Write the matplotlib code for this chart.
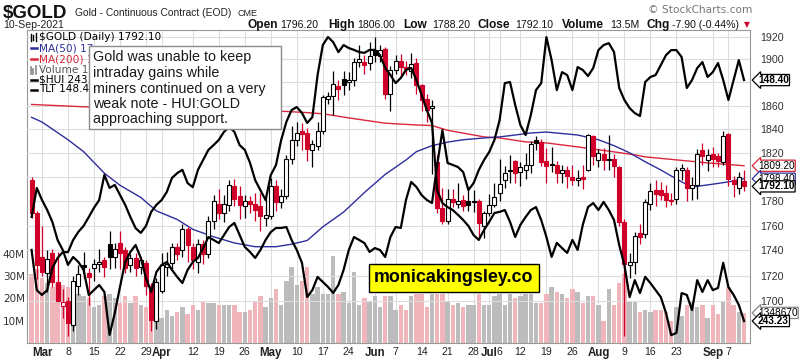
import numpy as np
import pandas as pd
import matplotlib
matplotlib.use("Agg")
import matplotlib.pyplot as plt
from matplotlib.patches import Rectangle
from matplotlib.lines import Line2D
from matplotlib.ticker import FixedLocator, NullLocator
from matplotlib.transforms import blended_transform_factory

# trading days on the chart (CME closed on these)
holidays = ["2021-04-02", "2021-05-31", "2021-07-05", "2021-09-06"]
dates = pd.bdate_range("2021-02-25", "2021-09-10")
dates = dates[~dates.isin(pd.to_datetime(holidays))]

prior_close = 1797.9

opens = [1797, 1770, 1735, 1722, 1738, 1715, 1696, 1700, 1681, 1712, 1728, 1722, 1726, 1729, 1732,
         1745, 1735, 1746, 1740, 1728, 1734, 1727, 1730, 1712, 1684, 1708, 1727, 1730, 1743, 1740,
         1757, 1743, 1731, 1745, 1737, 1764, 1778, 1770, 1777, 1792, 1784, 1776, 1780, 1778, 1776,
         1766, 1768, 1792, 1779, 1784, 1815, 1831, 1838, 1837, 1822, 1826, 1838, 1866, 1868, 1877,
         1883, 1880, 1882, 1898, 1898, 1897, 1908, 1903, 1909, 1870, 1891, 1899, 1893, 1890, 1897,
         1878, 1866, 1858, 1812, 1774, 1764, 1782, 1778, 1781, 1780, 1779, 1780, 1760, 1770, 1777,
         1787, 1797, 1806, 1813, 1804, 1806, 1810, 1831, 1829, 1813, 1811, 1810, 1803, 1806, 1800,
         1797, 1800, 1806, 1834, 1814, 1819, 1814, 1815, 1808, 1763, 1728, 1731, 1754, 1753, 1778,
         1789, 1789, 1787, 1781, 1782, 1806, 1806, 1791, 1793, 1822, 1814, 1819, 1817, 1812, 1836,
         1797, 1791, 1796.2]
highs = [1800, 1772, 1760, 1740, 1741, 1739, 1709, 1703, 1720, 1728, 1739, 1726, 1733, 1741, 1735,
         1756, 1746, 1756, 1743, 1737, 1738, 1735, 1732, 1714, 1718, 1738, 1739, 1746, 1746, 1761,
         1759, 1746, 1749, 1748, 1768, 1785, 1790, 1785, 1797, 1798, 1792, 1785, 1784, 1787, 1787,
         1783, 1799, 1797, 1790, 1818, 1843, 1846, 1845, 1841, 1831, 1846, 1869, 1872, 1890, 1882,
         1890, 1889, 1901, 1913, 1904, 1915, 1920, 1913, 1911, 1894, 1904, 1905, 1899, 1906, 1901,
         1879, 1870, 1865, 1818, 1791, 1790, 1790, 1795, 1785, 1790, 1789, 1782, 1772, 1786, 1795,
         1815, 1809, 1818, 1814, 1812, 1820, 1830, 1834, 1832, 1824, 1825, 1813, 1810, 1809, 1810,
         1806, 1810, 1836, 1835, 1823, 1824, 1835, 1819, 1809, 1765, 1738, 1755, 1761, 1782, 1795,
         1797, 1796, 1793, 1787, 1808, 1811, 1808, 1800, 1823, 1828, 1823, 1825, 1820, 1838, 1837,
         1801, 1804, 1806]
lows = [1766, 1717, 1720, 1707, 1711, 1700, 1687, 1673, 1677, 1705, 1718, 1697, 1716, 1723, 1719,
        1725, 1726, 1725, 1722, 1723, 1720, 1721, 1705, 1677, 1678, 1706, 1720, 1725, 1732, 1735,
        1731, 1725, 1722, 1729, 1734, 1757, 1765, 1763, 1772, 1776, 1765, 1766, 1770, 1764, 1756,
        1760, 1765, 1772, 1774, 1782, 1811, 1826, 1822, 1813, 1808, 1822, 1836, 1861, 1852, 1865,
        1869, 1873, 1877, 1893, 1887, 1891, 1898, 1898, 1866, 1855, 1887, 1885, 1886, 1884, 1870,
        1855, 1846, 1802, 1770, 1761, 1761, 1775, 1774, 1772, 1772, 1771, 1751, 1750, 1768, 1775,
        1780, 1791, 1795, 1795, 1792, 1798, 1803, 1822, 1809, 1795, 1804, 1795, 1795, 1791, 1793,
        1792, 1790, 1805, 1810, 1808, 1806, 1806, 1800, 1760, 1673, 1718, 1721, 1745, 1750, 1773,
        1776, 1781, 1775, 1777, 1778, 1797, 1780, 1781, 1782, 1810, 1805, 1808, 1808, 1810, 1792,
        1783, 1786, 1788.2]
closes = [1770, 1728, 1723, 1733, 1715, 1700, 1699, 1683, 1716, 1721, 1727, 1719, 1729, 1731, 1727,
          1735, 1741, 1738, 1726, 1734, 1726, 1732, 1712, 1685, 1715, 1728, 1729, 1743, 1737, 1757,
          1744, 1732, 1745, 1737, 1764, 1780, 1770, 1778, 1793, 1782, 1777, 1780, 1778, 1773, 1768,
          1769, 1792, 1779, 1784, 1815, 1831, 1837, 1836, 1823, 1827, 1838, 1867, 1868, 1879, 1874,
          1878, 1882, 1898, 1900, 1895, 1903, 1904, 1908, 1870, 1891, 1899, 1893, 1892, 1896, 1878,
          1865, 1856, 1860, 1774, 1764, 1782, 1779, 1780, 1776, 1777, 1780, 1762, 1770, 1777, 1783,
          1794, 1803, 1805, 1803, 1808, 1810, 1827, 1828, 1812, 1809, 1810, 1803, 1806, 1801, 1797,
          1799, 1798, 1835, 1817, 1820, 1814, 1815, 1809, 1763, 1729, 1731, 1752, 1751, 1779, 1788,
          1786, 1785, 1781, 1780, 1806, 1807, 1791, 1793, 1819, 1817, 1818, 1815, 1813, 1834, 1798,
          1794, 1800, 1792.1]
volume_m = [31, 33, 29, 27, 25, 27, 26, 25, 25, 22, 21, 20, 16, 17, 21, 22, 20, 18, 21, 18,
            21, 17, 16, 24, 17, 11, 15, 12, 14, 16, 13, 17, 15, 19, 18, 18, 17, 17, 17, 17,
            14, 14, 15, 19, 21, 16, 20, 24, 17, 28, 34, 26, 28, 34, 22, 25, 22, 22, 39, 22,
            23, 18, 32, 17, 20, 19, 21, 16, 21, 21, 15, 17, 15, 21, 22, 22, 16, 22, 22, 22,
            19, 17, 18, 16, 17, 17, 22, 17, 17, 21, 22, 17, 22, 20, 21, 22, 22, 18, 18, 22,
            25, 23, 22, 20, 24, 23, 18, 21, 21, 17, 10, 24, 17, 27, 31, 19, 19, 14, 15, 14,
            15, 15, 14, 10, 16, 12, 17, 19, 16, 17, 11, 17, 13, 19, 25, 17, 14, 13.4867]
hui = [262.5, 251.6, 250.3, 251.6, 257.6, 260.3, 261.9, 261.9, 265.2, 267.4, 269.0, 271.4, 273.9,
       276.0, 282.8, 279.3, 280.1, 277.4, 274.7, 271.4, 268.4, 267.1, 269.0, 272.8, 274.7, 276.0,
       278.2, 282.0, 283.3, 284.2, 280.6, 279.5, 284.2, 286.9, 289.6, 290.9, 292.3, 294.5, 295.8,
       294.5, 290.9, 289.6, 286.1, 281.4, 278.7, 276.0, 282.8, 285.5, 292.3, 297.2, 300.4, 301.2,
       299.6, 296.9, 298.5, 309.9, 318.0, 320.2, 318.8, 316.1, 318.0, 317.2, 316.7, 316.1, 315.9,
       316.7, 316.7, 315.3, 311.8, 309.9, 307.7, 309.1, 311.3, 311.8, 308.5, 304.5, 300.4, 296.9,
       278.7, 275.2, 274.1, 273.3, 272.0, 270.6, 269.0, 266.5, 265.2, 267.9, 270.1, 272.5, 272.8,
       273.3, 270.1, 266.0, 269.3, 271.4, 273.3, 274.1, 270.6, 266.0, 260.6, 264.4, 263.0, 261.7,
       265.2, 262.5, 269.3, 274.1, 275.2, 273.3, 275.5, 273.3, 270.6, 263.8, 258.4, 249.7, 254.3,
       250.8, 255.2, 253.5, 251.6, 249.7, 245.4, 239.4, 240.0, 250.8, 250.3, 246.2, 254.3, 251.1,
       254.3, 251.6, 252.2, 259.0, 252.4, 250.3, 247.6, 243.23]
tlt = [139.95, 141.74, 141.00, 140.38, 139.64, 138.53, 137.91, 136.99, 137.48, 137.17, 136.68,
       135.13, 135.44, 135.75, 135.32, 132.67, 134.02, 135.63, 137.17, 137.79, 138.22, 137.42,
       136.18, 135.32, 136.55, 136.99, 137.17, 136.68, 136.25, 135.87, 136.68, 137.17, 137.42,
       138.03, 138.71, 138.53, 138.34, 138.84, 139.33, 139.58, 138.84, 138.10, 137.79, 137.42,
       137.91, 138.53, 139.02, 139.27, 139.27, 139.33, 138.53, 137.91, 137.11, 135.01, 135.44,
       136.25, 135.94, 135.63, 135.26, 135.75, 136.68, 137.91, 138.71, 138.53, 138.34, 137.79,
       138.03, 137.91, 137.48, 138.71, 139.33, 139.27, 141.00, 142.11, 141.80, 141.30, 141.00,
       140.81, 143.16, 145.31, 143.28, 143.16, 143.03, 142.72, 141.61, 142.04, 142.85, 143.46,
       143.96, 144.70, 145.93, 148.21, 148.28, 146.86, 145.62, 145.01, 146.24, 147.78, 148.21,
       151.05, 149.63, 147.78, 148.89, 148.71, 147.78, 149.20, 149.02, 148.65, 149.14, 150.25,
       150.56, 150.68, 150.13, 147.91, 147.17, 146.67, 146.36, 146.18, 148.28, 148.59, 148.71,
       149.33, 149.94, 150.25, 150.25, 149.82, 147.91, 148.40, 149.14, 149.51, 148.59, 148.89,
       149.45, 148.40, 147.17, 148.40, 149.63, 148.40]

ma50_dates = ["2021-02-25", "2021-03-01", "2021-03-04", "2021-03-08", "2021-03-11", "2021-03-17",
              "2021-03-22", "2021-03-26", "2021-03-31", "2021-04-07", "2021-04-12", "2021-04-16",
              "2021-04-22", "2021-04-28", "2021-05-04", "2021-05-07", "2021-05-12", "2021-05-17",
              "2021-05-21", "2021-05-27", "2021-06-03", "2021-06-09", "2021-06-11", "2021-06-16",
              "2021-06-21", "2021-06-24", "2021-06-30", "2021-07-06", "2021-07-09", "2021-07-14",
              "2021-07-19", "2021-07-27", "2021-08-02", "2021-08-05", "2021-08-10", "2021-08-13",
              "2021-08-18", "2021-08-24", "2021-08-26", "2021-08-31", "2021-09-07", "2021-09-10"]
ma50_vals = [1850, 1846, 1837, 1831, 1821, 1803, 1793, 1783, 1772, 1765, 1757, 1751, 1746, 1743,
             1743, 1745, 1748, 1759, 1771, 1787, 1802, 1814, 1821, 1826, 1829, 1831, 1832.5, 1833.4,
             1835, 1836.7, 1837.5, 1835, 1831, 1826, 1820, 1812.5, 1805.7, 1795.8, 1791.6, 1793.3,
             1795.8, 1798.4]
ma200_dates = ["2021-02-25", "2021-03-11", "2021-05-06", "2021-05-12", "2021-05-17", "2021-05-24",
               "2021-06-03", "2021-06-11", "2021-06-16", "2021-06-21", "2021-06-30", "2021-07-06",
               "2021-07-13", "2021-07-19", "2021-07-27", "2021-08-05", "2021-08-11", "2021-08-13",
               "2021-08-23", "2021-08-31", "2021-09-10"]
ma200_vals = [1861, 1859, 1855, 1854, 1853, 1849.5, 1845, 1843.5, 1843, 1839, 1833.4, 1832.5,
              1829.2, 1828.3, 1825, 1820.8, 1818.3, 1816.6, 1814.1, 1811.6, 1809.2]

tick_dates = ["2021-03-01", "2021-03-08", "2021-03-15", "2021-03-22", "2021-03-29", "2021-04-01",
              "2021-04-12", "2021-04-19", "2021-04-26", "2021-05-03", "2021-05-10", "2021-05-17",
              "2021-05-24", "2021-06-01", "2021-06-07", "2021-06-14", "2021-06-21", "2021-06-28",
              "2021-07-01", "2021-07-06", "2021-07-12", "2021-07-19", "2021-07-26", "2021-08-02",
              "2021-08-09", "2021-08-16", "2021-08-23", "2021-09-01", "2021-09-07"]
tick_labels = ["Mar", "8", "15", "22", "29", "Apr", "12", "19", "26", "May", "10", "17", "24",
               "Jun", "7", "14", "21", "28", "Jul", "6", "12", "19", "26", "Aug", "9", "16", "23",
               "Sep", "7"]
months = {"Mar", "Apr", "May", "Jun", "Jul", "Aug", "Sep"}
grid_prices = [1700, 1720, 1740, 1760, 1780, 1800, 1820, 1840, 1860, 1880, 1900, 1920]
# 1880 and 1800 sit under the value tags on the reference
price_labels = [1700, 1720, 1740, 1760, 1780, 1820, 1840, 1860, 1900, 1920]

RED = "#d0002a"
PINK = "#f0b5ba"
GREY = "#bcbcbc"
GRID = "#dddddd"
BLUE = "#2e2e9c"
MARED = "#d8283c"

W, H = 803, 360
def fx(x): return x / W
def fy(y): return 1 - y / H

x = np.arange(len(dates))
prev = [prior_close] + closes[:-1]
down = [c < p for c, p in zip(closes, prev)]
tick_pos = dates.get_indexer(pd.to_datetime(tick_dates))

fig = plt.figure(figsize=(8.03, 3.6), dpi=100)
pos = [fx(27), fy(343), fx(750) - fx(27), fy(30) - fy(343)]
xlim = (-0.88, 138.15)

# volume (bottom layer)
ax_v = fig.add_axes(pos)
ax_v.set_xlim(*xlim)
ax_v.set_ylim(0, 140.3e6)
ax_v.bar(x, np.array(volume_m) * 1e6, width=0.85,
         color=[PINK if d else GREY for d in down], zorder=2)
ax_v.set_yticks([10e6, 20e6, 30e6, 40e6])
ax_v.set_yticklabels(["10M", "20M", "30M", "40M"])
ax_v.tick_params(axis="y", length=0, pad=1.5, labelsize=7.5, labelcolor="#333333")
ax_v.set_xticks(tick_pos)
ax_v.set_xticklabels(tick_labels)
ax_v.tick_params(axis="x", length=0, pad=3, labelsize=7.6, labelcolor="#222222")
for lab in ax_v.get_xticklabels():
    lab.set_fontfamily("Liberation Sans")
    if lab.get_text() in months:
        lab.set_fontweight("bold")
        lab.set_fontsize(8.3)
for xt in tick_pos:
    ax_v.axvline(xt, color=GRID, lw=0.8, zorder=1)
for s in ax_v.spines.values():
    s.set_color("#999999")
    s.set_linewidth(0.8)

# price layer
ax_p = fig.add_axes(pos, facecolor="none")
ax_p.set_yscale("log")
ax_p.set_xlim(*xlim)
ax_p.set_ylim(1667.4, 1925.9)
ax_p.yaxis.set_major_locator(FixedLocator(price_labels))
ax_p.yaxis.set_minor_locator(NullLocator())
ax_p.set_yticklabels([str(t) for t in price_labels])
ax_p.yaxis.tick_right()
ax_p.tick_params(axis="y", which="both", length=0, pad=7, labelsize=7.7, labelcolor="#333333")
for lab in ax_p.get_yticklabels():
    lab.set_fontfamily("Liberation Sans")
ax_p.set_xticks([])
for t in grid_prices:
    ax_p.axhline(t, color=GRID, lw=0.8, zorder=0)
for s in ax_p.spines.values():
    s.set_visible(False)

ma50_x = dates.get_indexer(pd.to_datetime(ma50_dates))
ma200_x = dates.get_indexer(pd.to_datetime(ma200_dates))
ax_p.plot(ma200_x, ma200_vals, color=MARED, lw=1.0, zorder=3)
ax_p.plot(ma50_x, ma50_vals, color=BLUE, lw=1.0, zorder=3)

for i in range(len(x)):
    o, h, l, c = opens[i], highs[i], lows[i], closes[i]
    col = RED if down[i] else "black"
    face = "white" if c >= o else col
    ax_p.vlines(x[i], l, h, color=col, lw=0.9, zorder=4)
    body = max(abs(c - o), 0.6)
    ax_p.bar(x[i], body, bottom=min(o, c), width=0.74, facecolor=face,
             edgecolor=col, lw=0.8, zorder=5)

# overlays
ax_t = fig.add_axes(pos, facecolor="none")
ax_t.set_xlim(*xlim)
ax_t.set_ylim(132.17, 151.49)
ax_t.plot(x, tlt, color="black", lw=1.6, zorder=6)
ax_t.axis("off")

ax_h = fig.add_axes(pos, facecolor="none")
ax_h.set_xlim(*xlim)
ax_h.set_ylim(237.27, 322.09)
ax_h.plot(x, hui, color="black", lw=1.6, zorder=6)
ax_h.axis("off")

# right-edge value tags
def tag(ax, val, txt, ec, bold=False):
    tr = blended_transform_factory(ax.transAxes, ax.transData)
    ax.text(1.0 + 8 / 723, val, txt, transform=tr, ha="left", va="center",
            fontsize=7.3, family="Liberation Sans", fontweight="bold" if bold else "normal",
            color="black", clip_on=False, zorder=20,
            bbox=dict(boxstyle="larrow,pad=0.06", fc="white", ec=ec, lw=0.9))

tag(ax_t, tlt[-1], "148.40", "black", True)
tag(ax_p, ma200_vals[-1], "1809.20", MARED)
tag(ax_p, ma50_vals[-1], "1798.40", BLUE)
tag(ax_p, closes[-1], "1792.10", "black", True)
tag(ax_v, volume_m[-1] * 1e6, "1348670", "#888888")
tag(ax_h, hui[-1], "243.23", "black", True)

# header
fig.text(fx(3), fy(13), "$GOLD", fontsize=13.5, fontweight="bold", family="Liberation Sans",
         va="center", color="#111111")
fig.text(fx(75), fy(13), "Gold - Continuous Contract (EOD)", fontsize=7.4,
         family="Liberation Sans", va="center", color="#222222")
fig.text(fx(238), fy(14), "CME", fontsize=6.5, family="Liberation Sans", va="center", color="#222222")
fig.text(fx(3), fy(25), "10-Sep-2021", fontsize=7.6, family="Liberation Sans", va="center",
         color="#222222")
hdr = [(248, "Open", True), (280, "1796.20", False), (328, "High", True), (357, "1806.00", False),
       (403, "Low", True), (432, "1788.20", False), (478, "Close", True), (515, "1792.10", False),
       (562, "Volume", True), (610, "13.5M", False), (647, "Chg", True),
       (672, "-7.90 (-0.44%)", False)]
for px, s, b in hdr:
    fig.text(fx(px), fy(25), s, fontsize=8.6 if b else 7.6, family="Liberation Sans",
             fontweight="bold" if b else "normal", va="center", color="#111111")
fig.text(fx(744), fy(25), "\u25bc", fontsize=5.5, color=RED, va="center")
fig.text(fx(752), fy(10), "\u00a9 StockCharts.com", fontsize=7.6, family="DejaVu Sans",
         ha="right", va="center", color="#777777")

# legend (the comment box hides its right part, so only the visible start is written)
leg = [("$GOLD (Daily) 1792.10", "black"), ("MA(50) 17", BLUE), ("MA(200) 1", MARED),
       ("Volume 13", "#555555"), ("$HUI 243.", "black"), ("TLT 148.4", "black")]
leg_y = [37.5, 48.3, 59.2, 70.0, 80.0, 89.5]
for (s, c), yy in zip(leg, leg_y):
    fig.text(fx(39), fy(yy), s, fontsize=7.6, family="DejaVu Sans", color=c, va="center", zorder=5)
for c, yy in zip([BLUE, MARED, "black", "black"], [leg_y[1], leg_y[2], leg_y[4], leg_y[5]]):
    fig.add_artist(Line2D([fx(31), fx(37)], [fy(yy), fy(yy)], color=c, lw=1.8, zorder=5))
for dx, y0, y1 in [(31.5, 34, 41), (33.5, 35, 40), (35.5, 33, 41)]:
    fig.add_artist(Line2D([fx(dx), fx(dx)], [fy(y0), fy(y1)], color="black", lw=1.0, zorder=5))
for dx, y0, y1 in [(31.5, 67, 74), (33.5, 69, 74), (35.5, 66, 74)]:
    fig.add_artist(Line2D([fx(dx), fx(dx)], [fy(y0), fy(y1)], color="#888888", lw=1.2, zorder=5))

# comment box
fig.add_artist(Rectangle((fx(89), fy(129)), fx(281) - fx(89), fy(46) - fy(129),
                         transform=fig.transFigure, fc="white", ec="#8c8c8c", lw=1.0, zorder=8))
note = ["Gold was unable to keep", "intraday gains while", "miners continued on a very",
        "weak note - HUI:GOLD", "approaching support."]
for k, s in enumerate(note):
    fig.text(fx(93), fy(57.5 + 15.5 * k), s, fontsize=10.3, family="Liberation Sans",
             color="#1a1a1a", va="center", zorder=9)

# watermark
fig.text(fx(454), fy(278), "monicakingsley.co", fontsize=12.9, fontweight="bold",
         family="Liberation Sans", ha="center", va="center", color="black", zorder=9,
         bbox=dict(boxstyle="square,pad=0.28", fc="#ffff00", ec="black", lw=1.0))

fig.savefig("out.png", dpi=100)
